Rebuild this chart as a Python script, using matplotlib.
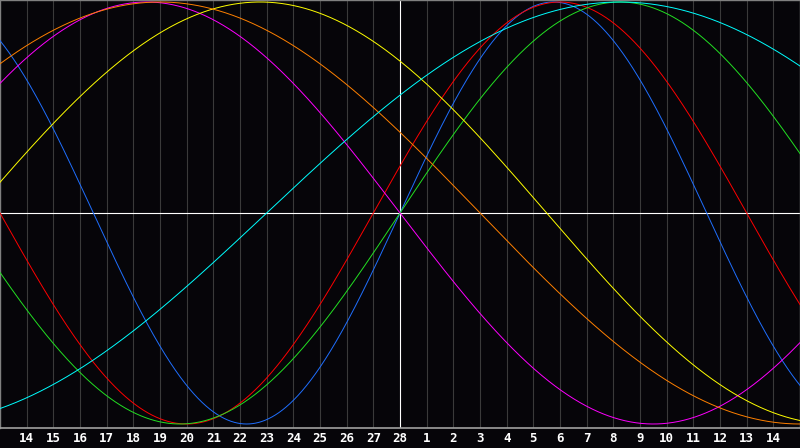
import numpy as np
import matplotlib
matplotlib.use("Agg")
import matplotlib.pyplot as plt

# biorhythm cycles (days) and colours
cycle_names = ["physical", "emotional", "intellectual", "intuitive",
               "aesthetic", "awareness", "spiritual"]
periods = [23, 28, 33, 38, 43, 48, 53]
colors = ["#1f6fff", "#ff0000", "#22e022", "#ff00ff",
          "#ffff00", "#ff8000", "#00ffff"]
days_alive = 14421          # days since birth at the centre day
day_offsets = list(range(-14, 15))
day_labels = ["14", "15", "16", "17", "18", "19", "20", "21", "22", "23",
              "24", "25", "26", "27", "28", "1", "2", "3", "4", "5", "6",
              "7", "8", "9", "10", "11", "12", "13", "14"]

fig = plt.figure(figsize=(8, 4.48), dpi=100, facecolor="#060509")
ax = fig.add_axes([0, 20 / 448, 1, 428 / 448])
ax.set_facecolor("#060509")

t = np.linspace(-15, 15, 1601)
for p, c in zip(periods, colors):
    ax.plot(t, np.sin(2 * np.pi * (days_alive + t) / p), color=c, lw=0.7,
            zorder=3)

# day grid
for d in day_offsets:
    if d == 0:
        ax.axvline(d, color="white", lw=0.8, zorder=2)
    else:
        ax.axvline(d, color="#3a3a3a", lw=0.8, zorder=1)
ax.axhline(0, color="white", lw=0.8, zorder=2)

ax.set_xlim(-15, 15)
ax.set_ylim(-215 / 211, 213 / 211)
ax.set_xticks([])
ax.set_yticks([])
for side in ["top", "left", "right"]:
    ax.spines[side].set_color("#808080")
    ax.spines[side].set_linewidth(1)
ax.spines["bottom"].set_color("#a0a0a0")
ax.spines["bottom"].set_linewidth(1.2)

# day numbers under the grid lines
for d, lab in zip(day_offsets, day_labels):
    fig.text((d + 15) / 30, 10 / 448, lab, ha="center", va="center",
             color="white", fontsize=9, fontweight="bold",
             family="DejaVu Sans Mono")

fig.savefig("out.png", dpi=100, facecolor=fig.get_facecolor())
